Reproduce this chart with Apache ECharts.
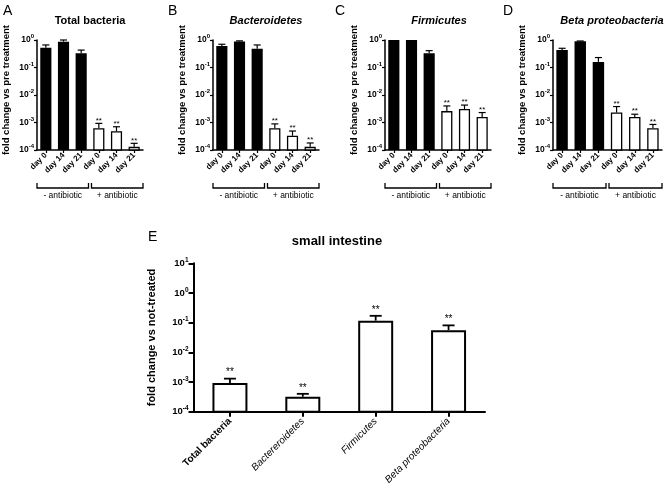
<!DOCTYPE html>
<html><head><meta charset="utf-8">
<script src="https://cdn.jsdelivr.net/npm/echarts@6/dist/echarts.min.js"></script>
<style>html,body{margin:0;padding:0;background:#fff}#c{width:668px;height:497px}</style>
</head><body><div id="c"></div>
<script>
// ---------- data ----------
const dayLabels = ['day 0', 'day 14', 'day 21', 'day 0', 'day 14', 'day 21'];
const groupLabels = ['- antibiotic', '+ antibiotic'];
const groupStart = [0, 3];
const groupEnd = [2, 5];
const panelLetters = ['A', 'B', 'C', 'D'];
const panelTitles = ['Total bacteria', 'Bacteroidetes', 'Firmicutes', 'Beta proteobacteria'];
const filledBars = [1, 1, 1, 0, 0, 0];
const sigTop = ['', '', '', '**', '**', '**'];

const totalVals = [0.52, 0.87, 0.33, 6.2e-4, 4.8e-4, 1.3e-4];
const totalErr  = [0.66, 1.0, 0.43, 9.3e-4, 7.0e-4, 1.75e-4];
const bactVals  = [0.60, 0.88, 0.48, 6.2e-4, 3.3e-4, 1.3e-4];
const bactErr   = [0.70, 0.93, 0.66, 8.9e-4, 4.9e-4, 1.8e-4];
const firmVals  = [1.0, 1.0, 0.33, 2.6e-3, 3.1e-3, 1.6e-3];
const firmErr   = [1.0, 1.0, 0.41, 4.0e-3, 4.3e-3, 2.3e-3];
const betaVals  = [0.43, 0.90, 0.16, 2.3e-3, 1.6e-3, 6.2e-4];
const betaErr   = [0.50, 0.92, 0.23, 3.8e-3, 2.0e-3, 8.5e-4];

const intestineCats = ['Total bacteria', 'Bactereroidetes', 'Firmicutes', 'Beta proteobacteria'];
const intestineVals = [9.3e-4, 3.2e-4, 0.117, 0.056];
const intestineErr  = [1.3e-3, 4.0e-4, 0.17, 0.081];
const intestineFill = [0, 0, 0, 0];
const sigE = ['**', '**', '**', '**'];

const topYMin = 1e-4, topYMax = 1;
const eYMin = 1e-4, eYMax = 10;

// ---------- layout / style ----------
const FONT = '"Liberation Sans", Arial, Helvetica, sans-serif';
const topGrids = [
  {left: 37, top: 40, width: 106, height: 110},
  {left: 213, top: 40, width: 106, height: 110},
  {left: 385, top: 40, width: 106, height: 110},
  {left: 553, top: 40, width: 109, height: 110}
];
const titleCenters = [90, 266, 439, 612];
const letterX = [3, 168, 335, 503];
const eGrid = {left: 193.5, top: 263.3, width: 291.5, height: 148.4};

function powLabel(v) {
  const e = Math.round(Math.log10(v));
  return '{b|10}{s|' + e + '}';
}
function powRich(fs, sfs) {
  return {
    b: {fontSize: fs, fontWeight: 'bold', fontFamily: FONT, color: '#000', lineHeight: fs + 4},
    s: {fontSize: sfs, fontWeight: 'bold', fontFamily: FONT, color: '#000', lineHeight: sfs + 1, verticalAlign: 'top'}
  };
}

function makeBarSeries(gi, vals, errs, fills, stars, opt) {
  const n = vals.length;
  return {
    type: 'custom', xAxisIndex: gi, yAxisIndex: gi, clip: false, silent: true,
    data: vals.map((v, i) => [i, v, errs[i]]),
    encode: {x: 0, y: 1},
    renderItem: (params, api) => {
      const i = api.value(0), v = api.value(1), e = api.value(2);
      const bandW = params.coordSys.width / n;
      const bw = bandW * opt.ratio;
      const p = api.coord([i, v]);
      const b = api.coord([i, opt.min]);
      const pe = api.coord([i, e]);
      const x = p[0];
      const children = [];
      const filled = fills[i];
      if (e > v) {
        children.push({type: 'line', shape: {x1: x, y1: p[1], x2: x, y2: pe[1]}, style: {stroke: '#000', lineWidth: opt.elw}});
        children.push({type: 'line', shape: {x1: x - opt.cap / 2, y1: pe[1], x2: x + opt.cap / 2, y2: pe[1]}, style: {stroke: '#000', lineWidth: opt.elw}});
      }
      const lw = filled ? 0 : opt.lw;
      children.push({
        type: 'rect',
        shape: {x: x - bw / 2 + lw / 2, y: p[1] + lw / 2, width: bw - lw, height: b[1] - p[1] - lw / 2},
        style: {fill: filled ? '#000' : '#fff', stroke: filled ? null : '#000', lineWidth: lw}
      });
      if (stars[i]) {
        children.push({
          type: 'text',
          style: {text: stars[i], x: x, y: Math.min(pe[1], p[1]) - opt.starOff, align: 'center', verticalAlign: 'middle',
                  fontSize: opt.starFs, fontFamily: FONT, fill: '#000'}
        });
      }
      return {type: 'group', children};
    }
  };
}

function makeBracketSeries(gi, n) {
  return {
    type: 'custom', xAxisIndex: gi, yAxisIndex: gi, clip: false, silent: true,
    data: groupStart.map((s, k) => [s, topYMin, groupEnd[k]]),
    encode: {x: 0, y: 1},
    renderItem: (params, api) => {
      const s = api.value(0), e = api.value(2);
      const bandW = params.coordSys.width / n;
      const ps = api.coord([s, topYMin]), pe = api.coord([e, topYMin]);
      const x1 = ps[0] - bandW / 2 + (s > 0 ? 1.5 : 0);
      const x2 = pe[0] + bandW / 2 - (e < n - 1 ? 1.5 : 0);
      const y0 = ps[1] + 33, y1 = ps[1] + 38;
      return {type: 'group', children: [
        {type: 'polyline', shape: {points: [[x1, y0], [x1, y1], [x2, y1], [x2, y0]]}, style: {stroke: '#000', lineWidth: 1.3, fill: null}},
        {type: 'text', style: {text: groupLabels[params.dataIndex], x: (x1 + x2) / 2, y: y1 + 8, align: 'center', verticalAlign: 'middle',
          fontSize: 8.5, fontFamily: FONT, fill: '#000'}}
      ]};
    }
  };
}

const grids = [], xAxes = [], yAxes = [], series = [], graphics = [];
const topData = [[totalVals, totalErr], [bactVals, bactErr], [firmVals, firmErr], [betaVals, betaErr]];

topGrids.forEach((g, gi) => {
  grids.push(Object.assign({containLabel: false}, g));
  xAxes.push({
    type: 'category', gridIndex: gi, data: dayLabels, boundaryGap: true,
    axisLine: {show: true, lineStyle: {color: '#000', width: 1.5}},
    axisTick: {show: true, alignWithLabel: true, length: 3, lineStyle: {color: '#000', width: 1.2}},
    axisLabel: {interval: 0, rotate: 45, fontSize: 8, fontWeight: 'bold', color: '#000', fontFamily: FONT, margin: 4},
    splitLine: {show: false}
  });
  yAxes.push({
    type: 'log', gridIndex: gi, logBase: 10, min: topYMin, max: topYMax, splitNumber: 4,
    axisLine: {show: true, lineStyle: {color: '#000', width: 1.5}},
    axisTick: {show: true, length: 3, lineStyle: {color: '#000', width: 1.2}},
    splitLine: {show: false}, minorTick: {show: false},
    axisLabel: {formatter: powLabel, rich: powRich(8.5, 6), margin: 3},
    name: 'fold change vs pre treatment', nameLocation: 'middle', nameGap: 26,
    nameTextStyle: {fontSize: 9.5, fontWeight: 'bold', color: '#000', fontFamily: FONT, padding: [0, 0, 0, 10]}
  });
  series.push(makeBarSeries(gi, topData[gi][0], topData[gi][1], filledBars, sigTop,
    {ratio: 0.63, min: topYMin, cap: 7, elw: 1.2, lw: 1.3, starFs: 8, starOff: 3}));
  series.push(makeBracketSeries(gi, dayLabels.length));
  graphics.push({type: 'text', left: letterX[gi], top: 4, style: {text: panelLetters[gi], fontSize: 14, fontFamily: FONT, fill: '#000'}});
  graphics.push({type: 'text', x: titleCenters[gi], y: 21, style: {text: panelTitles[gi], fontSize: 11, fontWeight: 'bold',
    fontStyle: gi === 0 ? 'normal' : 'italic', fontFamily: FONT, fill: '#000', align: 'center', verticalAlign: 'middle'}});
});

// panel E
grids.push(Object.assign({containLabel: false}, eGrid));
xAxes.push({
  type: 'category', gridIndex: 4, data: intestineCats, boundaryGap: true,
  axisLine: {show: true, lineStyle: {color: '#000', width: 2}},
  axisTick: {show: true, alignWithLabel: true, length: 5, lineStyle: {color: '#000', width: 2}},
  axisLabel: {interval: 0, rotate: 45, margin: 8,
    formatter: (v, i) => (i === 0 ? '{b|' + v + '}' : '{i|' + v + '}'),
    rich: {
      b: {fontSize: 10, fontWeight: 'bold', color: '#000', fontFamily: FONT},
      i: {fontSize: 10, fontStyle: 'italic', color: '#000', fontFamily: FONT}
    }},
  splitLine: {show: false}
});
yAxes.push({
  type: 'log', gridIndex: 4, logBase: 10, min: eYMin, max: eYMax, splitNumber: 5,
  axisLine: {show: true, lineStyle: {color: '#000', width: 2}},
  axisTick: {show: true, length: 5, lineStyle: {color: '#000', width: 2}},
  splitLine: {show: false}, minorTick: {show: false},
  axisLabel: {formatter: powLabel, rich: powRich(9.5, 6.5), margin: 5},
  name: 'fold change vs not-treated', nameLocation: 'middle', nameGap: 36,
  nameTextStyle: {fontSize: 11, fontWeight: 'bold', color: '#000', fontFamily: FONT}
});
series.push(makeBarSeries(4, intestineVals, intestineErr, intestineFill, sigE,
  {ratio: 0.48, min: eYMin, cap: 12, elw: 1.8, lw: 2, starFs: 10, starOff: 6}));
graphics.push({type: 'text', left: 148, top: 230, style: {text: 'E', fontSize: 14, fontFamily: FONT, fill: '#000'}});
graphics.push({type: 'text', x: 337, y: 241, style: {text: 'small intestine', fontSize: 13, fontWeight: 'bold', fontFamily: FONT,
  fill: '#000', align: 'center', verticalAlign: 'middle'}});

const chart = echarts.init(document.getElementById('c'), null, {renderer: 'canvas'});
chart.setOption({
  animation: false,
  backgroundColor: '#fff',
  grid: grids, xAxis: xAxes, yAxis: yAxes, series: series, graphic: graphics
});
</script></body></html>
